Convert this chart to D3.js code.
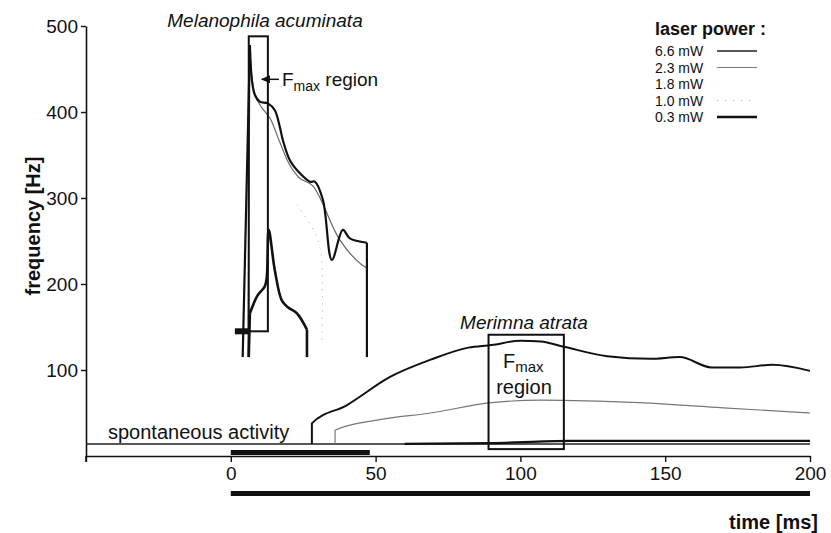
<!DOCTYPE html>
<html>
<head>
<meta charset="UTF-8">
<script src="https://d3js.org/d3.v7.min.js"></script>
<style>
    body, html { margin: 0; background: #fff; }
    svg text { font-family: "Liberation Sans", Arial, sans-serif; fill: #111; }
</style>
</head>
<body>
<svg id="chart" width="831" height="533"></svg>
<script>
// time [ms] / frequency [Hz]
var xTicks = [-50, 0, 50, 100, 150, 200];
var yTicks = [100, 200, 300, 400, 500];

// Melanophila acuminata
var mel66 = [[4.1,115],[6.6,478],[7.3,437],[8.3,420],[10,412],[12.8,410],[15.2,402],[16.9,383],[18,367],[20.4,344],[23.8,329],[27.3,319],[29,319],[31.8,298],[34.9,228],[38.7,263],[41.1,253],[47,248],[47,115]];
var mel23 = [[5.9,115],[6.6,472],[8.3,420],[10.7,405],[13.5,393],[16.9,365],[20.4,338],[23.8,323],[28.3,314],[37.7,251],[45.3,222],[47,219],[47,115]];
var mel10 = [[22.8,292],[29.7,255],[31.4,226],[31.4,131]];
var mel03 = [[6.2,115],[6.6,166],[9.3,187],[11.7,197],[12.4,207],[13.1,263],[15.2,216],[17.6,181],[19.7,173],[22.8,166],[26.3,147],[26.3,115]];

// Merimna atrata
var mer66 = [[28,14],[28,38],[40,59],[55,92],[69,112],[82,126],[90,129],[100,134],[107,133],[115,127],[130,116],[145,113],[155,115],[166,103],[176,103],[187,106],[200,99]];
var mer23 = [[36,14],[36,30],[51,42],[69,50],[90,62],[107,65],[141,62],[170,56],[200,50]];
var mer03 = [[60,14],[90,15],[117,17.5],[200,17.5]];
var spont = [[-50,14],[200,14]];

var legendLabels = ["6.6 mW", "2.3 mW", "1.8 mW", "1.0 mW", "0.3 mW"];

var svg = d3.select("#chart");
var x = d3.scaleLinear().domain([-50, 200]).range([86, 810]);
var y = d3.scaleLinear().domain([0, 500]).range([456, 26]);

var line = d3.line().x(d => x(d[0])).y(d => y(d[1]));
var smooth = d3.line().x(d => x(d[0])).y(d => y(d[1])).curve(d3.curveMonotoneX);
var soft = d3.line().x(d => x(d[0])).y(d => y(d[1])).curve(d3.curveCatmullRom.alpha(0.5));

// straight rise, smooth middle, straight drop at the end
function trace(data, stroke, width, dash) {
    var g = svg.append("g").attr("fill", "none").attr("stroke", stroke)
        .attr("stroke-width", width).attr("stroke-dasharray", dash || null)
        .attr("stroke-linejoin", "round");
    g.append("path").attr("d", line(data.slice(0, 2)));
    g.append("path").attr("d", soft(data.slice(1, -1)));
    g.append("path").attr("d", line(data.slice(-2)));
}

// axes
var xAxis = svg.append("g")
    .attr("transform", `translate(0,${y(0)})`)
    .call(d3.axisBottom(x).tickValues(xTicks).tickSize(6).tickSizeOuter(0).tickPadding(5)
        .tickFormat(d => d < 0 ? "" : d));
var yAxis = svg.append("g")
    .attr("transform", `translate(${x(-50)},0)`)
    .call(d3.axisLeft(y).tickValues(yTicks).tickSize(5).tickSizeOuter(0).tickPadding(3));
[xAxis, yAxis].forEach(g => {
    g.select(".domain").attr("stroke", "#111").attr("stroke-width", 1.6);
    g.selectAll(".tick line").attr("stroke", "#111").attr("stroke-width", 1.4);
    g.selectAll(".tick text").attr("font-size", 19).attr("fill", "#111")
        .attr("font-family", "Liberation Sans, Arial, sans-serif");
});
// little cross at the axis corner
svg.append("line").attr("x1", x(-50)).attr("x2", x(-50)).attr("y1", y(0)).attr("y2", y(0) + 6)
    .attr("stroke", "#111").attr("stroke-width", 1.6);

// stimulus bars
svg.append("rect").attr("x", x(0)).attr("width", x(48) - x(0))
    .attr("y", y(0) - 6).attr("height", 5).attr("fill", "#111");
svg.append("rect").attr("x", x(0)).attr("width", x(200) - x(0))
    .attr("y", 491).attr("height", 5).attr("fill", "#111");

// spontaneous activity baseline
svg.append("path").datum(spont).attr("d", line)
    .attr("fill", "none").attr("stroke", "#222").attr("stroke-width", 1.4);

// Merimna curves
svg.append("path").datum(mer03).attr("d", smooth)
    .attr("fill", "none").attr("stroke", "#111").attr("stroke-width", 2.2);
svg.append("path").datum(mer23).attr("d", smooth)
    .attr("fill", "none").attr("stroke", "#777").attr("stroke-width", 1.2);
svg.append("path").datum(mer66).attr("d", smooth)
    .attr("fill", "none").attr("stroke", "#111").attr("stroke-width", 2);

// Merimna Fmax box
svg.append("rect").attr("x", x(89)).attr("y", y(141))
    .attr("width", x(115) - x(89)).attr("height", y(8) - y(141))
    .attr("fill", "none").attr("stroke", "#111").attr("stroke-width", 2);

// Melanophila curves
svg.append("path").datum(mel10).attr("d", soft)
    .attr("fill", "none").attr("stroke", "#aaa").attr("stroke-width", 1).attr("stroke-dasharray", "1,6");
trace(mel23, "#666", 1.2);
trace(mel66, "#111", 2.2);
trace(mel03, "#111", 2.6);

// Melanophila Fmax box and marker
svg.append("rect").attr("x", x(6.2)).attr("y", y(488))
    .attr("width", x(12.8) - x(6.2)).attr("height", y(145) - y(488))
    .attr("fill", "none").attr("stroke", "#111").attr("stroke-width", 2);
svg.append("rect").attr("x", x(1.4)).attr("width", x(6.6) - x(1.4))
    .attr("y", y(145) - 3).attr("height", 6).attr("fill", "#111");

// pointer to Fmax region
svg.append("line").attr("x1", x(10.7)).attr("x2", x(16.6)).attr("y1", y(438)).attr("y2", y(438))
    .attr("stroke", "#111").attr("stroke-width", 1.5);
svg.append("path")
    .attr("d", `M${x(10.4)},${y(438)} l9,-4 l0,8 z`).attr("fill", "#111");
var fm = svg.append("text").attr("x", 282).attr("y", 86).attr("font-size", 19);
fm.append("tspan").text("F");
fm.append("tspan").attr("font-size", 14).attr("dy", 5).text("max");
fm.append("tspan").attr("dy", -5).text(" region");

// Merimna box label
var fm2 = svg.append("text").attr("x", 503).attr("y", 368).attr("font-size", 20);
fm2.append("tspan").text("F");
fm2.append("tspan").attr("font-size", 15).attr("dy", 4).text("max");
svg.append("text").attr("x", 524).attr("y", 394).attr("text-anchor", "middle")
    .attr("font-size", 20).text("region");

// titles
svg.append("text").attr("x", 265).attr("y", 27).attr("text-anchor", "middle")
    .attr("font-size", 19).attr("font-style", "italic").text("Melanophila acuminata");
svg.append("text").attr("x", 524).attr("y", 329).attr("text-anchor", "middle")
    .attr("font-size", 19).attr("font-style", "italic").text("Merimna atrata");
svg.append("text").attr("x", 108).attr("y", 439)
    .attr("font-size", 20).text("spontaneous activity");

// axis titles
svg.append("text").attr("transform", "translate(40,226) rotate(-90)")
    .attr("text-anchor", "middle").attr("font-size", 20).attr("font-weight", "bold")
    .text("frequency [Hz]");
svg.append("text").attr("x", 818).attr("y", 529).attr("text-anchor", "end")
    .attr("font-size", 20).attr("font-weight", "bold").text("time [ms]");

// legend
svg.append("text").attr("x", 655).attr("y", 35).attr("font-size", 18).attr("font-weight", "bold")
    .text("laser power :");
var legendStyle = [
    { stroke: "#222", width: 1.6, dash: null },
    { stroke: "#777", width: 1.1, dash: null },
    { stroke: "none", width: 0, dash: null },
    { stroke: "#aaa", width: 1, dash: "1,7" },
    { stroke: "#111", width: 2.6, dash: null }
];
legendLabels.forEach((lab, i) => {
    var ly = 51 + i * 16.5;
    svg.append("text").attr("x", 655).attr("y", ly + 5).attr("font-size", 14).text(lab);
    svg.append("line").attr("x1", 717).attr("x2", 757).attr("y1", ly).attr("y2", ly)
        .attr("stroke", legendStyle[i].stroke).attr("stroke-width", legendStyle[i].width)
        .attr("stroke-dasharray", legendStyle[i].dash);
});
</script>
</body>
</html>
